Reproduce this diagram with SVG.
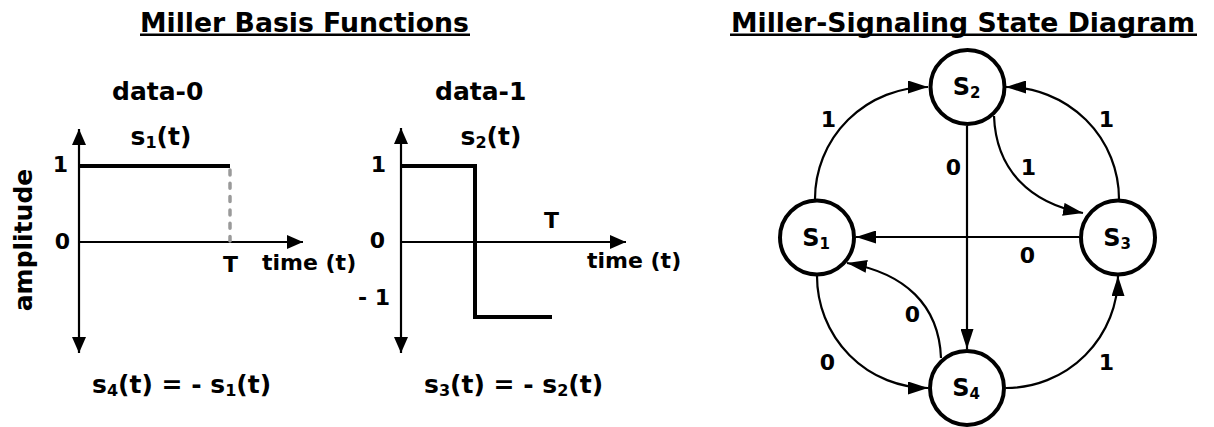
<svg xmlns="http://www.w3.org/2000/svg" width="1214" height="427" viewBox="0 0 1214 427">
<style>
text{font-family:"DejaVu Sans",Verdana,"Liberation Sans",sans-serif;font-weight:bold;fill:#000}
.title{font-size:26.7px}
.lbl{font-size:25px}
.ax{font-size:22px}
.st{font-size:24px}
.axis{stroke:#000;stroke-width:2.2;fill:none}
.lvl{stroke:#000;stroke-width:4;fill:none;stroke-linejoin:miter}
.edge{stroke:#000;stroke-width:2.2;fill:none}
.node circle{fill:#fff;stroke:#000;stroke-width:4}
.ul{stroke:#000;stroke-width:2.5}
</style>
<defs>
<marker id="ax" viewBox="0 0 16 14" refX="16" refY="7" markerWidth="16" markerHeight="14" orient="auto-start-reverse" markerUnits="userSpaceOnUse"><path d="M0,0 L16,7 L0,14 z" fill="#000"/></marker>
<marker id="ah" viewBox="0 0 20 13" refX="20" refY="6.5" markerWidth="20" markerHeight="13" orient="auto" markerUnits="userSpaceOnUse"><path d="M0,0 L20,6.5 L0,13 z" fill="#000"/></marker>
</defs>

<!-- Titles -->
<g id="title-left">
<text class="title" x="140" y="32">Miller Basis Functions</text>
<line class="ul" x1="140" y1="34.7" x2="470" y2="34.7"/>
</g>
<g id="title-right">
<text class="title" x="731" y="32">Miller-Signaling State Diagram</text>
<line class="ul" x1="730" y1="34.7" x2="1197" y2="34.7"/>
</g>

<!-- Left plot: data-0 -->
<g id="plot-data0">
<text class="lbl" x="112" y="99.5">data-0</text>
<text class="lbl" x="130.5" y="145">s<tspan font-size="16" dy="3">1</tspan><tspan dy="-3">(t)</tspan></text>
<line class="axis" x1="79" y1="129" x2="79" y2="353" marker-start="url(#ax)" marker-end="url(#ax)"/>
<line class="axis" x1="79" y1="242" x2="303" y2="242" marker-end="url(#ax)"/>
<path class="lvl" d="M79,166 H230"/>
<line x1="230" y1="170" x2="230" y2="241" stroke="#9a9a9a" stroke-width="3.5" stroke-dasharray="5 8.3" stroke-linecap="round"/>
<text class="ax" x="60.3" y="172" text-anchor="middle">1</text>
<text class="ax" x="62.5" y="249" text-anchor="middle">0</text>
<text class="ax" x="230.5" y="272" text-anchor="middle">T</text>
<text class="ax" x="262" y="270" font-size="21">time (t)</text>
<text class="lbl" transform="translate(32,240) rotate(-90)" text-anchor="middle" font-size="24">amplitude</text>
<text class="lbl" x="92" y="393">s<tspan font-size="16" dy="3">4</tspan><tspan dy="-3">(t) = - s</tspan><tspan font-size="16" dy="3">1</tspan><tspan dy="-3">(t)</tspan></text>
</g>

<!-- Right plot: data-1 -->
<g id="plot-data1">
<text class="lbl" x="435" y="99.5">data-1</text>
<text class="lbl" x="460.5" y="145">s<tspan font-size="16" dy="3">2</tspan><tspan dy="-3">(t)</tspan></text>
<line class="axis" x1="401" y1="128" x2="401" y2="353" marker-start="url(#ax)" marker-end="url(#ax)"/>
<line class="axis" x1="401" y1="242" x2="626" y2="242" marker-end="url(#ax)"/>
<path class="lvl" d="M401,166 H475 V317 H552"/>
<text class="ax" x="378.3" y="172" text-anchor="middle">1</text>
<text class="ax" x="377.5" y="248" text-anchor="middle">0</text>
<text class="ax" x="374" y="305" text-anchor="middle">- 1</text>
<text class="ax" x="551.5" y="228" text-anchor="middle">T</text>
<text class="ax" x="587" y="268" font-size="21">time (t)</text>
<text class="lbl" x="424" y="393">s<tspan font-size="16" dy="3">3</tspan><tspan dy="-3">(t) = - s</tspan><tspan font-size="16" dy="3">2</tspan><tspan dy="-3">(t)</tspan></text>
</g>

<!-- Connectors -->
<g id="connectors">
<path class="edge" d="M815,199 A113,112 0 0 1 928,87" marker-end="url(#ah)"/>
<path class="edge" d="M1119,199 A113,112 0 0 0 1006,87" marker-end="url(#ah)"/>
<path class="edge" d="M994,116 C996,170 1030,203 1083,213" marker-end="url(#ah)"/>
<line class="edge" x1="967" y1="126" x2="967" y2="349" marker-end="url(#ah)"/>
<line class="edge" x1="1079" y1="237" x2="856" y2="237" marker-end="url(#ah)"/>
<path class="edge" d="M817,276 A111,112 0 0 0 928,388" marker-end="url(#ah)"/>
<path class="edge" d="M941,358 C939,305 905,273 847,263" marker-end="url(#ah)"/>
<path class="edge" d="M1006,388 A112,112 0 0 0 1118,276" marker-end="url(#ah)"/>
<g>
<text class="ax" x="828.3" y="127" text-anchor="middle">1</text>
<text class="ax" x="1106.5" y="127" text-anchor="middle">1</text>
<text class="ax" x="953.3" y="175" text-anchor="middle">0</text>
<text class="ax" x="1028.3" y="175" text-anchor="middle">1</text>
<text class="ax" x="1027.5" y="263" text-anchor="middle">0</text>
<text class="ax" x="827.5" y="370" text-anchor="middle">0</text>
<text class="ax" x="912.5" y="322" text-anchor="middle">0</text>
<text class="ax" x="1106.5" y="370" text-anchor="middle">1</text>
</g>
</g>

<!-- Nodes -->
<g id="S1" class="node"><circle cx="817" cy="237.5" r="37"/><text class="st" x="816" y="245.5" text-anchor="middle">S<tspan font-size="15" dy="3">1</tspan></text></g>
<g id="S2" class="node"><circle cx="967.5" cy="87" r="37"/><text class="st" x="966.5" y="95" text-anchor="middle">S<tspan font-size="15" dy="3">2</tspan></text></g>
<g id="S3" class="node"><circle cx="1118" cy="237.5" r="37"/><text class="st" x="1117" y="245.5" text-anchor="middle">S<tspan font-size="15" dy="3">3</tspan></text></g>
<g id="S4" class="node"><circle cx="967" cy="388" r="37"/><text class="st" x="966" y="396" text-anchor="middle">S<tspan font-size="15" dy="3">4</tspan></text></g>
</svg>
